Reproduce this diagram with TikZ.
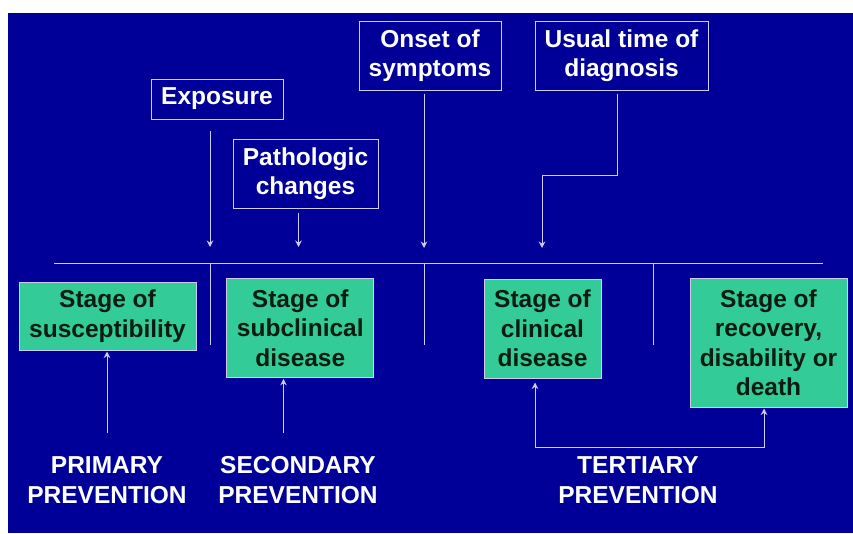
\documentclass[tikz,border=0pt]{standalone}
\usepackage{fontspec}
\setmainfont{Liberation Sans}
\usetikzlibrary{arrows.meta}
\definecolor{bgblue}{RGB}{0,0,152}
\definecolor{stagegreen}{RGB}{51,204,153}
\definecolor{linecol}{RGB}{205,205,245}
\definecolor{darktext}{RGB}{8,28,18}
\tikzset{
  every node/.style={font=\bfseries\fontsize{24.5}{29.5}\selectfont, align=center, inner sep=0pt},
  eventbox/.style={draw=linecol, line width=1pt, text=white},
  stagebox/.style={draw=linecol, line width=1pt, fill=stagegreen, text=darktext},
  prevlabel/.style={text=white},
  conn/.style={draw=linecol, line width=1pt},
  arr/.style={conn, -{Stealth[length=6.5pt,width=6.5pt]}, shorten >=1pt},
}
\begin{document}
\begin{tikzpicture}[x=1pt,y=-1pt]
\useasboundingbox (0,0) rectangle (853,533);
\fill[white] (0,0) rectangle (853,533);
\fill[bgblue] (8,13) rectangle (853,533);

% event boxes
\node[eventbox, minimum width=132, minimum height=40] (exposure) at (217,99) {Exposure};
\node[eventbox, minimum width=145, minimum height=69] (patho) at (305.5,173.5) {Pathologic\\changes};
\node[eventbox, minimum width=142, minimum height=69] (onset) at (430,55.5) {Onset of\\symptoms};
\node[eventbox, minimum width=173, minimum height=69] (usual) at (621.5,55.5) {Usual time of\\diagnosis};

% stage boxes
\node[stagebox, minimum width=177, minimum height=68] (susc) at (107.5,316) {Stage of\\susceptibility};
\node[stagebox, minimum width=147, minimum height=99] (subc) at (300.3,327.8) {Stage of\\subclinical\\disease};
\node[stagebox, minimum width=117, minimum height=99] (clin) at (542.5,328.5) {Stage of\\clinical\\disease};
\node[stagebox, minimum width=157, minimum height=129] (recov) at (768.5,342.5) {Stage of\\recovery,\\disability or\\death};

% prevention labels
\node[prevlabel] (prim) at (107,480) {PRIMARY\\PREVENTION};
\node[prevlabel] (sec) at (298,480) {SECONDARY\\PREVENTION};
\node[prevlabel] (tert) at (638,480) {TERTIARY\\PREVENTION};

% timeline
\coordinate (tl) at (54,263);
\coordinate (tr) at (823,263);
\draw[conn] (tl) -- (tr);
\coordinate (k1a) at (210,263); \coordinate (k1b) at (210,345);
\coordinate (k2a) at (424,263); \coordinate (k2b) at (424,345);
\coordinate (k3a) at (653,263); \coordinate (k3b) at (653,345);
\draw[conn] (k1a) -- (k1b);
\draw[conn] (k2a) -- (k2b);
\draw[conn] (k3a) -- (k3b);

% arrows from event boxes down to timeline
\coordinate (e1s) at (210,131); \coordinate (e1e) at (210,248);
\draw[arr] (e1s) -- (e1e);
\coordinate (e2s) at (298.5,213); \coordinate (e2e) at (298.5,248);
\draw[arr] (e2s) -- (e2e);
\coordinate (e3s) at (424,94); \coordinate (e3e) at (424,249);
\draw[arr] (e3s) -- (e3e);
\coordinate (e4s) at (617,94); \coordinate (e4m) at (617,175);
\coordinate (e4n) at (542,175); \coordinate (e4e) at (542,249);
\draw[arr] (e4s) -- (e4m) -- (e4n) -- (e4e);

% prevention arrows
\coordinate (p1) at (107,433);
\draw[arr] (p1) -- (p1 |- susc.south);
\coordinate (p2) at (283.5,433);
\draw[arr] (p2) -- (p2 |- subc.south);
\coordinate (tc) at (535,447);
\coordinate (rc) at (764,447);
\draw[arr, shorten >=4pt] (tc) -- (tc |- clin.south);
\draw[arr] (tc) -- (rc) -- (rc |- recov.south);
\end{tikzpicture}
\end{document}
